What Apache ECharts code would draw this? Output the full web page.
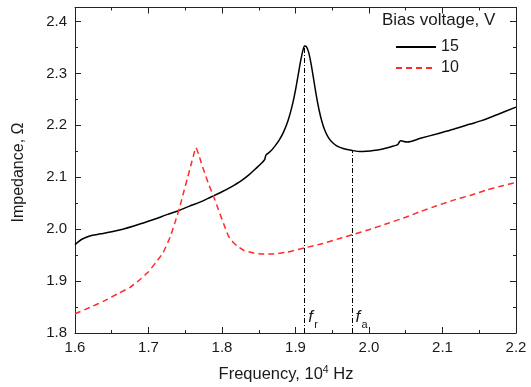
<!DOCTYPE html>
<html>
<head>
<meta charset="utf-8">
<script src="https://cdn.jsdelivr.net/npm/echarts@6/dist/echarts.min.js"></script>
<style>html,body{margin:0;padding:0;background:#fff}#c{width:531px;height:387px}</style>
</head>
<body>
<div id="c"></div>
<script>
// ---- data ----
var freq15 = [1.600,1.604,1.610,1.620,1.635,1.650,1.665,1.680,1.695,1.710,1.725,1.740,1.755,1.770,1.785,1.800,1.812,1.825,1.837,1.847,1.855,1.858,1.860,1.866,1.872,1.878,1.884,1.890,1.895,1.900,1.904,1.907,1.910,1.9125,1.915,1.918,1.921,1.924,1.928,1.932,1.936,1.940,1.945,1.951,1.958,1.966,1.976,1.988,1.996,2.006,2.020,2.034,2.039,2.043,2.047,2.052,2.070,2.092,2.115,2.138,2.154,2.175,2.200];
var imp15  = [1.970,1.975,1.981,1.987,1.991,1.995,2.000,2.006,2.013,2.020,2.028,2.035,2.044,2.052,2.062,2.072,2.081,2.092,2.105,2.118,2.129,2.134,2.143,2.150,2.160,2.172,2.188,2.210,2.235,2.268,2.300,2.324,2.344,2.353,2.351,2.340,2.320,2.295,2.260,2.230,2.207,2.190,2.176,2.166,2.159,2.155,2.152,2.1495,2.150,2.1515,2.155,2.1605,2.163,2.1705,2.169,2.168,2.175,2.1835,2.1925,2.2025,2.2095,2.221,2.235];
var freq10 = [1.600,1.620,1.640,1.660,1.675,1.690,1.700,1.710,1.720,1.7295,1.7365,1.742,1.748,1.753,1.758,1.762,1.7646,1.768,1.772,1.777,1.7815,1.786,1.7905,1.795,1.800,1.8045,1.809,1.815,1.822,1.830,1.843,1.856,1.870,1.889,1.912,1.935,1.960,1.979,2.000,2.025,2.050,2.070,2.092,2.115,2.140,2.160,2.180,2.200];
var imp10  = [1.837,1.849,1.862,1.877,1.888,1.905,1.918,1.936,1.955,1.985,2.015,2.040,2.072,2.098,2.125,2.146,2.157,2.145,2.127,2.106,2.088,2.072,2.056,2.038,2.019,2.002,1.986,1.975,1.966,1.959,1.954,1.952,1.952,1.956,1.964,1.9715,1.982,1.990,1.999,2.011,2.023,2.034,2.045,2.056,2.066,2.0755,2.083,2.090];
var seriesNames = ['15','10'];
var markerFreq = [1.9125, 1.977];
var markerTop = [2.353, 2.152];
var markerSub = ['r','a'];
var xMin = 1.6, xMax = 2.2, yMin = 1.8, yMax = 2.427;

function zip(a,b){ return a.map(function(v,i){ return [v,b[i]]; }); }

var TXT = '#1a1a1a';
var chart = echarts.init(document.getElementById('c'), null, {renderer:'canvas'});
var fontFam = 'Liberation Sans, Arial, sans-serif';

function xAxisCfg(pos, labels){
  return {
    type:'value', position:pos, min:xMin, max:xMax, interval:0.1,
    axisLine:{show:true, onZero:false, lineStyle:{color:'#222', width:1}},
    axisTick:{show:true, inside:true, length:6, lineStyle:{color:'#222', width:1}},
    minorTick:{show:true, splitNumber:2, length:3, lineStyle:{color:'#222', width:1}},
    splitLine:{show:false}, minorSplitLine:{show:false},
    axisLabel:{show:labels, fontSize:15, color:TXT, fontFamily:fontFam, margin:7,
      formatter:function(v){ return v.toFixed(1); }}
  };
}
function yAxisCfg(pos, labels, interval, len, line){
  return {
    type:'value', position:pos, min:yMin, max:yMax, interval:interval,
    axisLine:{show:line, onZero:false, lineStyle:{color:'#222', width:1}},
    axisTick:{show:true, inside:true, length:len, lineStyle:{color:'#222', width:1}},
    splitLine:{show:false},
    axisLabel:{show:labels, fontSize:15, color:TXT, fontFamily:fontFam, margin:8,
      formatter:function(v){ return (Math.abs(v*10-Math.round(v*10))<1e-6 && v<=2.4001) ? v.toFixed(1) : ''; }}
  };
}

var markData = markerFreq.map(function(f,i){ return [{coord:[f,yMin]},{coord:[f,markerTop[i]]}]; });

chart.setOption({
  animation:false,
  textStyle:{fontFamily:fontFam},
  grid:{left:75, right:15, top:7.5, bottom:54, show:false, outerBoundsMode:'none'},
  xAxis:[xAxisCfg('bottom', true), xAxisCfg('top', false)],
  yAxis:[yAxisCfg('left', true, 0.1, 6, true), yAxisCfg('left', false, 0.05, 3, false),
         yAxisCfg('right', false, 0.1, 6, true), yAxisCfg('right', false, 0.05, 3, false)],
  legend:{
    show:true, orient:'vertical', left:395, top:39, padding:0,
    itemWidth:40, itemHeight:16, itemGap:5,
    itemStyle:{opacity:0},
    data:seriesNames,
    textStyle:{fontSize:16, color:TXT, fontFamily:fontFam}
  },
  series:[
    {name:seriesNames[0], type:'line', xAxisIndex:0, yAxisIndex:0, data:zip(freq15, imp15),
     symbol:'none', showSymbol:false, smooth:0.3,
     lineStyle:{color:'#000', width:1.5}, itemStyle:{color:'#000'},
     markLine:{silent:true, symbol:['none','none'], label:{show:false},
       lineStyle:{color:'#000', width:1, type:[5,2,1,2]}, emphasis:{disabled:true},
       data:markData}
    },
    {name:seriesNames[1], type:'line', xAxisIndex:0, yAxisIndex:0, data:zip(freq10, imp10),
     symbol:'none', showSymbol:false, smooth:0.15,
     lineStyle:{color:'#ff2a2a', width:1.5, type:[6,4]}, itemStyle:{color:'#ff2a2a'}
    }
  ],
  graphic:[]
});

var g = [];
g.push({type:'text', x:438.7, y:20.7, style:{text:'Bias voltage, V', fontSize:17, fill:TXT, fontFamily:fontFam, align:'center', verticalAlign:'middle'}});
g.push({type:'text', x:19, y:172.5, rotation:Math.PI/2, style:{text:'Impedance, \u03A9', fontSize:16, fill:TXT, fontFamily:fontFam, align:'center', verticalAlign:'middle'}});
g.push({type:'text', x:286, y:374, style:{
  text:'{a|Frequency, 10}{s|4}{a| Hz}', align:'center', verticalAlign:'middle', fill:TXT,
  rich:{a:{fontSize:16.5, lineHeight:18, fontFamily:fontFam, fill:TXT}, s:{fontSize:10.5, lineHeight:11, verticalAlign:'top', fontFamily:fontFam, fill:TXT}}
}});
markerFreq.forEach(function(f,i){
  var p = chart.convertToPixel({xAxisIndex:0, yAxisIndex:0}, [f, yMin]);
  g.push({type:'text', x:p[0]+3.5, y:p[1]-16, style:{text:'f', fontSize:17, fontStyle:'italic', fill:TXT, fontFamily:fontFam, align:'left', verticalAlign:'middle'}});
  g.push({type:'text', x:p[0]+9.5, y:p[1]-8, style:{text:markerSub[i], fontSize:11, fill:TXT, fontFamily:fontFam, align:'left', verticalAlign:'middle'}});
});
chart.setOption({graphic:g});
</script>
</body>
</html>
